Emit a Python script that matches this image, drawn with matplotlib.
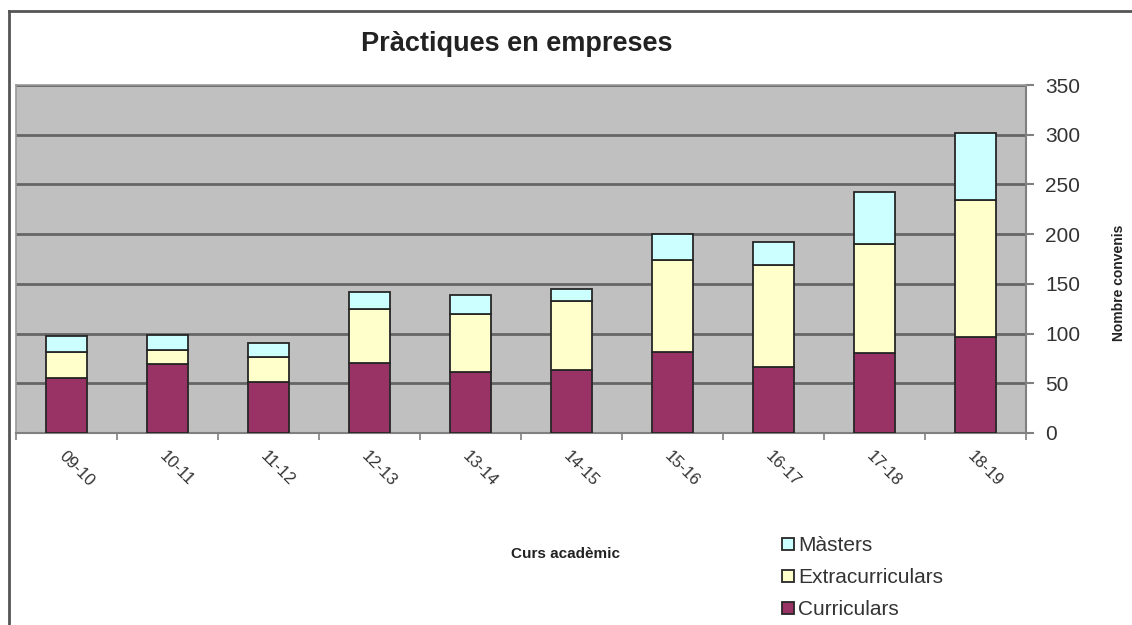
import matplotlib.pyplot as plt
import numpy as np
from matplotlib.lines import Line2D

# Dades: convenis de pràctiques per curs acadèmic
cursos = ['09-10', '10-11', '11-12', '12-13', '13-14',
          '14-15', '15-16', '16-17', '17-18', '18-19']
curriculars = [55, 69, 51, 70, 61, 63, 81, 66, 80, 97]
extracurriculars = [26, 14, 25, 55, 59, 70, 93, 103, 110, 137]
masters = [17, 16, 15, 17, 19, 12, 26, 23, 52, 68]

plt.rcParams['font.family'] = ['Liberation Sans', 'DejaVu Sans']

W, H = 1132, 625
fig = plt.figure(figsize=(W / 100, H / 100), dpi=100)
ax = fig.add_axes([16 / W, 192 / H, 1010 / W, 348 / H])
ax.set_facecolor('#C0C0C0')

x = np.arange(len(cursos))
curr = np.array(curriculars)
extra = np.array(extracurriculars)
mast = np.array(masters)

edge = dict(edgecolor='#262626', linewidth=1.3, zorder=3)
b1 = ax.bar(x, curr, 0.41, color='#993366', label='Curriculars', **edge)
b2 = ax.bar(x, extra, 0.41, bottom=curr, color='#FFFFCC',
            label='Extracurriculars', **edge)
b3 = ax.bar(x, mast, 0.41, bottom=curr + extra, color='#CCFFFF',
            label='Màsters', **edge)

ax.set_xlim(-0.5, len(cursos) - 0.5)
ax.set_ylim(0, 350)
ax.set_yticks(range(0, 351, 50))
ax.yaxis.tick_right()
ax.yaxis.grid(True, color='#666666', linewidth=2, zorder=1)
ax.set_axisbelow(True)

ax.set_xticks(x)
ax.set_xticklabels(cursos, rotation=-45, ha='left', va='top',
                   rotation_mode='anchor')
ax.set_xticks(np.arange(-0.5, len(cursos)), minor=True)
ax.tick_params(axis='x', which='major', length=0, pad=11, labelsize=12,
               labelcolor='#333333')
ax.tick_params(axis='x', which='minor', length=5, width=1.2, color='#808080')
ax.tick_params(axis='y', length=6, width=1.5, color='#808080', pad=8,
               labelsize=15, labelcolor='#333333')

for s in ['left', 'top']:
    ax.spines[s].set_color('#9a9a9a')
    ax.spines[s].set_linewidth(1.2)
for s in ['bottom', 'right']:
    ax.spines[s].set_color('#808080')
    ax.spines[s].set_linewidth(1.5)

ax.set_xlabel('Curs acadèmic', fontsize=11, fontweight='bold', color='#222222')
ax.xaxis.set_label_coords(0.5436, -0.3276)
ax.set_ylabel('Nombre convenis', fontsize=10, fontweight='bold', color='#222222')
ax.yaxis.set_label_position('right')
ax.yaxis.set_label_coords(1.085, 0.431)

fig.text(517 / W, 1 - 44 / H, 'Pràctiques en empreses', ha='center',
         va='center', fontsize=19.5, fontweight='bold', color='#222222')

ax.legend(handles=[b3, b2, b1], loc='upper left',
          bbox_to_anchor=(772 / W, 1 - 526 / H), bbox_transform=fig.transFigure,
          frameon=False, fontsize=15, handlelength=0.55, handleheight=0.55,
          handletextpad=0.2, labelspacing=0.62, borderpad=0,
          labelcolor='#333333')

# marc del gràfic
fig.add_artist(Line2D([9 / W, 1], [1 - 11 / H] * 2, color='#555555', lw=2,
                      transform=fig.transFigure))
fig.add_artist(Line2D([9 / W] * 2, [0, 1 - 11 / H], color='#555555', lw=2,
                      transform=fig.transFigure))

fig.savefig('out.png', dpi=100)
